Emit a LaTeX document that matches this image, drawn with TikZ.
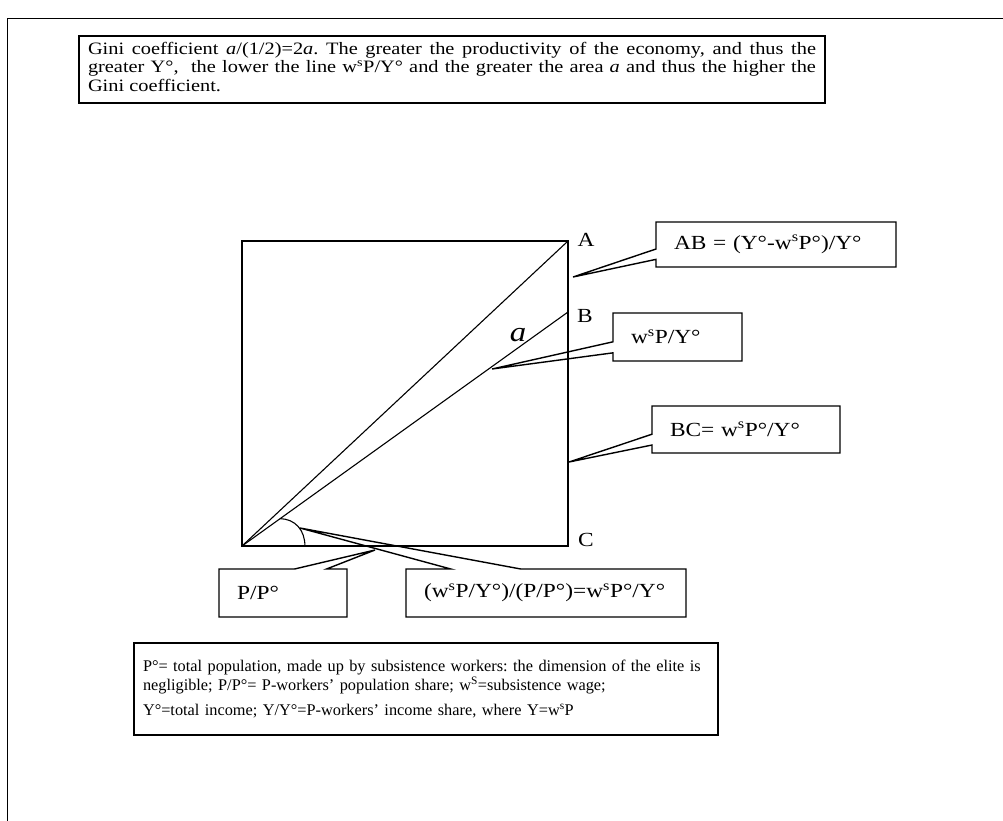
\documentclass[tikz,border=0pt]{standalone}
\usepackage{fontspec}
\setmainfont[FakeStretch=1.17]{Liberation Serif}
\newfontfamily\legendfont{Liberation Serif}
\usetikzlibrary{positioning,calc}

\begin{document}
\frenchspacing
\begin{tikzpicture}[x=1pt, y=-1pt,
    txt/.style={font=\fontsize{20}{23}\selectfont},
    notebox/.style={draw, line width=1.4pt, inner ysep=0pt, outer sep=0pt, anchor=north west},
    callbox/.style={txt, inner xsep=18pt, inner ysep=0pt, outer sep=0pt, anchor=north west, align=left},
    wedge/.style={line width=1.4pt, line join=miter},
    thinline/.style={line width=1.1pt}]
  \useasboundingbox (0,0) rectangle (1003,820);
  % outer frame, right and bottom edges fall off the page
  \draw[line width=1pt] (1010,18) -- (7,18) -- (7,830);

  % Gini note on top
  \node[notebox, font=\fontsize{17.4}{18.5}\selectfont, inner xsep=9pt, inner ysep=6pt, text width=728pt, align=justify] (gini) at (79,36)
    {Gini coefficient \textit{a}/(1/2)=2\textit{a}. The greater the productivity of the economy, and thus the\linebreak
     greater Y°,\ \ the lower the line w\textsuperscript{s}P/Y° and the greater the area \textit{a} and thus the higher the\linebreak
     Gini coefficient.\strut};

  % Lorenz square
  \coordinate (O) at (242,546);
  \coordinate (C) at (568,546);
  \coordinate (A) at (568,241);
  \coordinate (B) at (568,312);
  \draw[thinline] (O) rectangle (A);
  \draw[thinline] (O) -- (A);
  \draw[thinline] (O) -- (B);
  \node[txt] (labA) at (586,240) {A};
  \node[txt] (labB) at (585,316) {B};
  \node[txt] (labC) at (586,540) {C};
  \node[font=\fontsize{28}{28}\selectfont\itshape] (area) at (518,335) {a};
  % angle mark
  \draw[thinline] ($(O)!0.117!(B)$) .. controls (295,519) and (305,530) .. ($(O)!0.193!(C)$);

  % callout tips
  \coordinate (tipAB) at (573,277);
  \coordinate (tipWS) at (492,369);
  \coordinate (tipBC) at (569,462);
  \coordinate (tipPP) at (375,550);
  \coordinate (tipSlope) at (300,528);

  % callouts
  \node[callbox, text width=204pt, minimum height=45pt] (ab) at (656,222) {AB = (Y°-w\textsuperscript{s}P°)/Y°};
  \node[callbox, text width=93pt, minimum height=48pt] (ws) at (613,313) {w\textsuperscript{s}P/Y°};
  \node[callbox, text width=152pt, minimum height=47pt] (bc) at (652,406) {BC= w\textsuperscript{s}P°/Y°};
  \node[callbox, text width=92pt, minimum height=48pt] (pp) at (219,569) {P/P°};
  \node[callbox, text width=244pt, minimum height=48pt] (slope) at (406,569) {(w\textsuperscript{s}P/Y°)/(P/P°)=w\textsuperscript{s}P°/Y°};

  \draw[wedge] (ab.north west) -- (ab.north east) -- (ab.south east) -- (ab.south west)
    -- ($(ab.north west)!0.83!(ab.south west)$) -- (tipAB) -- ($(ab.north west)!0.6!(ab.south west)$) -- cycle;
  \draw[wedge] (ws.north west) -- (ws.north east) -- (ws.south east) -- (ws.south west)
    -- ($(ws.north west)!0.83!(ws.south west)$) -- (tipWS) -- ($(ws.north west)!0.6!(ws.south west)$) -- cycle;
  \draw[wedge] (bc.north west) -- (bc.north east) -- (bc.south east) -- (bc.south west)
    -- ($(bc.north west)!0.83!(bc.south west)$) -- (tipBC) -- ($(bc.north west)!0.6!(bc.south west)$) -- cycle;
  \draw[wedge] (pp.north west) -- ($(pp.north west)!0.59!(pp.north east)$) -- (tipPP)
    -- ($(pp.north west)!0.84!(pp.north east)$) -- (pp.north east) -- (pp.south east) -- (pp.south west) -- cycle;
  \draw[wedge] (slope.north west) -- ($(slope.north west)!0.16!(slope.north east)$) -- (tipSlope)
    -- ($(slope.north west)!0.41!(slope.north east)$) -- (slope.north east) -- (slope.south east) -- (slope.south west) -- cycle;

  % legend at the bottom
  \node[notebox, font=\legendfont\fontsize{16.3}{19}\selectfont, inner xsep=9pt, text width=566pt, minimum height=92pt, align=left] (legend) at (134,643)
    {P°= total population, made up by subsistence workers: the dimension of the elite is\\
     negligible; P/P°= P-workers’ population share; w\textsuperscript{S}=subsistence wage;\\[6pt]
     Y°=total income; Y/Y°=P-workers’ income share, where Y=w\textsuperscript{s}P};
\end{tikzpicture}
\end{document}
